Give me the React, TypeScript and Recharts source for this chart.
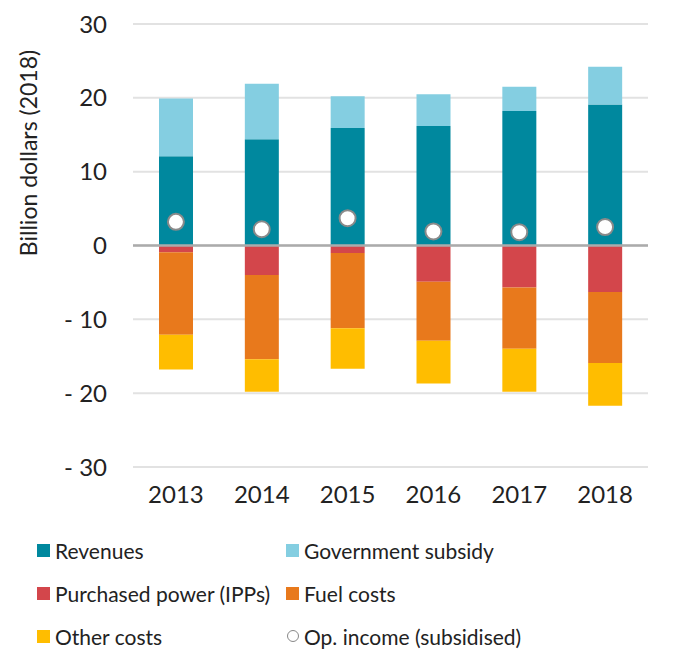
import { Bar, CartesianGrid, ComposedChart, Line, ReferenceLine, XAxis, YAxis } from "recharts";

const years = ["2013", "2014", "2015", "2016", "2017", "2018"];
const revenues = [12.1, 14.4, 15.9, 16.2, 18.2, 19.1];
const subsidy = [7.8, 7.5, 4.3, 4.3, 3.3, 5.1];
const purchasedPower = [-0.9, -4.0, -1.0, -4.9, -5.7, -6.3];
const fuelCosts = [-11.2, -11.4, -10.2, -8.0, -8.3, -9.6];
const otherCosts = [-4.7, -4.4, -5.5, -5.8, -5.8, -5.8];
const opIncome = [3.2, 2.2, 3.7, 1.9, 1.8, 2.5];
const yTicks = [-30, -20, -10, 0, 10, 20, 30];

const colors = {
    revenues: "#00889e",
    subsidy: "#84cee1",
    purchased: "#d3464b",
    fuel: "#e8791c",
    other: "#ffbd00",
};

const FONT = "Lato, 'Open Sans', sans-serif";

const data = years.map((year, i) => ({
    year,
    revenues: revenues[i],
    subsidy: subsidy[i],
    purchased: purchasedPower[i],
    fuel: fuelCosts[i],
    other: otherCosts[i],
    income: opIncome[i],
}));

const legendItems = [
    { label: "Revenues", color: colors.revenues },
    { label: "Government subsidy", color: colors.subsidy },
    { label: "Purchased power (IPPs)", color: colors.purchased },
    { label: "Fuel costs", color: colors.fuel },
    { label: "Other costs", color: colors.other },
    { label: "Op. income (subsidised)", color: null },
];

function LegendGrid() {
    return (
        <div style={{ position: "absolute", left: 37, top: 535, display: "grid", gridTemplateColumns: "249px 340px", rowGap: 13, fontFamily: FONT, fontSize: 21, color: "#222" }}>
            {legendItems.map((item) => (
                <div key={item.label} style={{ display: "flex", alignItems: "center", height: 30, whiteSpace: "nowrap" }}>
                    {item.color ? (
                        <span style={{ width: 13, height: 13, background: item.color, marginRight: 5, display: "inline-block", flex: "none" }} />
                    ) : (
                        <span style={{ width: 10, height: 10, border: "1.5px solid #888", borderRadius: "50%", marginRight: 5, marginLeft: 1, display: "inline-block", flex: "none" }} />
                    )}
                    <span>{item.label}</span>
                </div>
            ))}
        </div>
    );
}

export default function App() {
    return (
        <div style={{ position: "absolute", left: 0, top: 0, width: 695, height: 650, background: "#fff" }}>
            <ComposedChart
                width={695}
                height={520}
                data={data}
                stackOffset="sign"
                barCategoryGap={26}
                margin={{ top: 24, right: 47, bottom: 0, left: 0 }}
            >
                <CartesianGrid vertical={false} stroke="#e2e2e2" strokeWidth={2} />
                <XAxis
                    dataKey="year"
                    axisLine={false}
                    tickLine={false}
                    tickSize={0}
                    tickMargin={19}
                    height={53}
                    tick={{ fill: "#222", fontSize: 24, fontFamily: FONT }}
                />
                <YAxis
                    domain={[-30, 30]}
                    ticks={yTicks}
                    width={133}
                    axisLine={false}
                    tickLine={false}
                    tickSize={0}
                    tickMargin={26}
                    tickFormatter={(v: number) => (v < 0 ? `- ${Math.abs(v)}` : `${v}`)}
                    tick={{ fill: "#222", fontSize: 24, fontFamily: FONT }}
                    label={{
                        content: () => (
                            <text x={31} y={153} transform="rotate(-90 31 153)" textAnchor="middle" dominantBaseline="middle" fill="#222" fontSize={23} fontFamily={FONT}>
                                Billion dollars (2018)
                            </text>
                        ),
                    }}
                />
                <Bar dataKey="revenues" stackId="a" fill={colors.revenues} isAnimationActive={false} />
                <Bar dataKey="subsidy" stackId="a" fill={colors.subsidy} isAnimationActive={false} />
                <Bar dataKey="purchased" stackId="a" fill={colors.purchased} isAnimationActive={false} />
                <Bar dataKey="fuel" stackId="a" fill={colors.fuel} isAnimationActive={false} />
                <Bar dataKey="other" stackId="a" fill={colors.other} isAnimationActive={false} />
                <ReferenceLine y={0} stroke="#ababab" strokeWidth={2.5} />
                <Line
                    dataKey="income"
                    stroke="none"
                    isAnimationActive={false}
                    dot={{ r: 8, fill: "#fff", stroke: "#8a8a8a", strokeWidth: 2 }}
                    activeDot={false}
                />
            </ComposedChart>
            <LegendGrid />
        </div>
    );
}
